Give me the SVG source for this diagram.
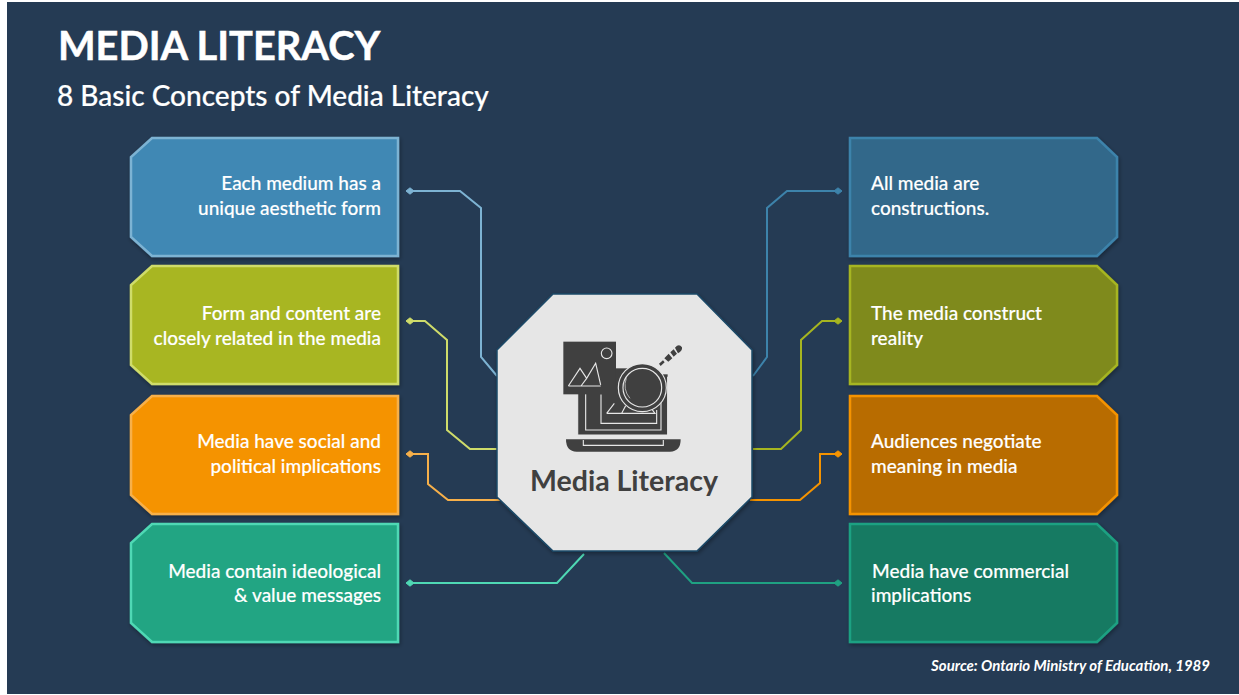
<svg xmlns="http://www.w3.org/2000/svg" width="1239" height="695" viewBox="0 0 1239 695">
<style>
text{font-family:"Lato","Carlito","Open Sans",sans-serif;fill:#fff}
.t{font-size:19px;font-weight:500;stroke:#fff;stroke-width:.15px}
.r{text-anchor:end}
.box{stroke-width:2.5;filter:url(#sh)}
.c{fill:none;stroke-width:2;stroke-linejoin:miter}
.ln{fill:none;stroke:#e6e6e6;stroke-width:3.4}
.dk{fill:#404040}
</style>
<defs>
<filter id="sh" x="-10%" y="-10%" width="120%" height="120%"><feDropShadow dx="1" dy="2" stdDeviation="2" flood-color="#000" flood-opacity=".35"/></filter>
<polygon id="L" points="152,138 398,138 398,256 152,256 131,237 131,157"/>
<polygon id="R" points="850,138 1097,138 1117,157 1117,237 1097,256 850,256"/>
<polygon id="d" points="-4,0 0,-3.2 4,0 0,3.2"/>
</defs>
<rect width="1239" height="695" fill="#fff"/>
<rect x="7" y="2" width="1232" height="692" fill="#253b54"/>
<g id="title">
<text x="58" y="60" font-size="39.8" font-weight="700" stroke="#fff" stroke-width=".5">MEDIA LITERACY</text>
<text x="57" y="106" font-size="28" font-weight="500" stroke="#fff" stroke-width=".2">8 Basic Concepts of Media Literacy</text>
</g>
<g id="connectors">
<g stroke="#7db3d3" fill="#7db3d3"><path class="c" d="M409 191H460L481 208V357L497 376"/><use href="#d" x="410" y="191"/></g>
<g stroke="#cfdc6a" fill="#cfdc6a"><path class="c" d="M409 321H425L447 340V430L470 449H497"/><use href="#d" x="410" y="321"/></g>
<g stroke="#f7b04a" fill="#f7b04a"><path class="c" d="M409 454H428V484L448 500H500"/><use href="#d" x="410" y="454"/></g>
<g stroke="#4fd8b4" fill="#4fd8b4"><path class="c" d="M409 583H557L584 554"/><use href="#d" x="410" y="583"/></g>
<g stroke="#3d83ab" fill="#3d83ab"><path class="c" d="M839 191H787L767 208V357L753 376"/><use href="#d" x="838" y="191"/></g>
<g stroke="#a6b520" fill="#a6b520"><path class="c" d="M839 321H822L801 340V430L781 449H753"/><use href="#d" x="838" y="321"/></g>
<g stroke="#f59300" fill="#f59300"><path class="c" d="M839 454H820V483L800 500H750"/><use href="#d" x="838" y="454"/></g>
<g stroke="#1fa182" fill="#1fa182"><path class="c" d="M839 583H692L664 553"/><use href="#d" x="838" y="583"/></g>
</g>
<g id="n1"><use href="#L" class="box" fill="#4188b4" stroke="#7db3d3"/><text class="t r" x="381" y="190">Each medium has a</text><text class="t r" x="381" y="215">unique aesthetic form</text></g>
<g id="n2"><use href="#L" y="128" class="box" fill="#a8b620" stroke="#cfdc6a"/><text class="t r" x="381" y="320">Form and content are</text><text class="t r" x="381" y="345">closely related in the media</text></g>
<g id="n3"><use href="#L" y="258" class="box" fill="#f59300" stroke="#f7b04a"/><text class="t r" x="381" y="448">Media have social and</text><text class="t r" x="381" y="473">political implications</text></g>
<g id="n4"><use href="#L" y="386" class="box" fill="#20a583" stroke="#4fd8b4"/><text class="t r" x="381" y="578">Media contain ideological</text><text class="t r" x="381" y="602">&amp; value messages</text></g>
<g id="n5"><use href="#R" class="box" fill="#30688a" stroke="#3d83ab"/><text class="t" x="871" y="190">All media are</text><text class="t" x="871" y="215">constructions.</text></g>
<g id="n6"><use href="#R" y="128" class="box" fill="#7f8a1c" stroke="#a6b520"/><text class="t" x="871" y="320">The media construct</text><text class="t" x="871" y="345">reality</text></g>
<g id="n7"><use href="#R" y="258" class="box" fill="#b86c00" stroke="#f59300"/><text class="t" x="871" y="448">Audiences negotiate</text><text class="t" x="871" y="473">meaning in media</text></g>
<g id="n8"><use href="#R" y="386" class="box" fill="#177a62" stroke="#1fa182"/><text class="t" x="872" y="578">Media have commercial</text><text class="t" x="871" y="602">implications</text></g>
<g id="center">
<polygon points="553,294 697,294 752,350 752,497 697,551 553,551 497,497 497,350" fill="#e6e6e6" stroke="#1c4a68" stroke-width="1.5" filter="url(#sh)"/>
<g transform="translate(555,335) scale(.3333)">
<rect class="dk" x="68" y="118" width="270" height="182"/>
<path class="ln" d="M92 175V285H318V125"/>
<path class="ln" d="M68 175V300H338V125"/>
<path class="dk" d="M33 313H377Q377 350 345 350H65Q33 350 33 313Z"/>
<path class="ln" d="M85 315V331H325V315"/>
<rect class="dk" x="140" y="100" width="150" height="165"/>
<path class="ln" d="M138 178V265H305V225"/>
<rect class="dk" x="25" y="20" width="158" height="158"/>
<circle class="ln" cx="155" cy="55" r="16"/>
<path class="ln" d="M40 153L75 100L95 130L122 85L137 150M40 153H137M78 153L95 130"/>
<path class="ln" d="M155 235L178 205M155 235H300L285 215M200 235L212 212"/>
<circle cx="262" cy="158" r="72" fill="#404040" stroke="#e6e6e6" stroke-width="3.5"/>
<circle cx="262" cy="158" r="58" fill="#404040" stroke="#e6e6e6" stroke-width="3.5"/>
<path d="M214 130A58 58 0 0 0 225 190" fill="none" stroke="#e6e6e6" stroke-width="2"/>
<path class="dk" d="M312 86L324 76L329 82L317 93Z M328 70L341 56L352 70L340 80Z M346 52L356 43L366 56L356 65Z M360 38Q372 24 381 37Q383 48 369 55Z"/>
</g>
<text x="624" y="491" text-anchor="middle" font-size="28.5" font-weight="700" style="fill:#404040">Media Literacy</text>
</g>
<text id="source" x="1210" y="671" text-anchor="end" font-size="15" font-weight="700" font-style="italic">Source: Ontario Ministry of Education, 1989</text>
</svg>
